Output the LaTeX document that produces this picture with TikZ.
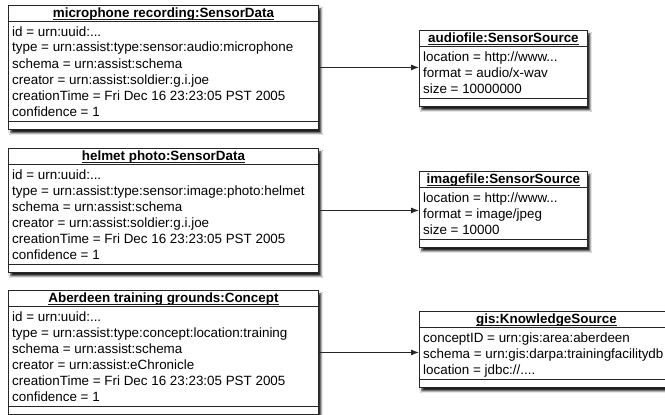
\documentclass[tikz,border=0pt]{standalone}
\usepackage{fontspec}
\setmainfont{Liberation Sans}
\usetikzlibrary{arrows.meta,shadows.blur}

% three full stops, kept in a macro so that \foreach does not read them as a range
\newcommand\tdots{...}

\tikzset{
  objframe/.style={draw=black!85, line width=0.9pt, fill=white, inner sep=0pt,
    blur shadow={shadow xshift=2.5pt, shadow yshift=-3.5pt, shadow blur radius=2pt,
                 shadow opacity=90}},
  objsep/.style={draw=black!85, line width=0.8pt},
  objtitle/.style={font=\fontsize{13.4}{16}\selectfont\bfseries, inner sep=0pt, anchor=base},
  objuline/.style={draw=black!90, line width=0.8pt},
  objrow/.style={font=\fontsize{13.4}{16}\selectfont, inner sep=0pt, anchor=base west},
  link/.style={draw=black!85, line width=0.9pt, -{Latex[length=8pt,width=6pt]}},
}

% UML object box: #1 name, #2 top-left corner, #3 width, #4 title,
% #5 number of attribute rows, #6 comma separated attribute rows
\newcommand\objbox[6]{%
  \node[objframe, minimum width=#3, minimum height={28pt+#5*16pt},
        anchor=north west] (#1) at #2 {};
  \draw[objsep] ([yshift=-16pt]#1.north west) -- ([yshift=-16pt]#1.north east);
  \draw[objsep] ([yshift=9pt]#1.south west) -- ([yshift=9pt]#1.south east);
  \node[objtitle] (#1-t) at ([yshift=-12.3pt]#1.north) {#4};
  \draw[objuline] ([yshift=-1.7pt]#1-t.base west) -- ([yshift=-1.7pt]#1-t.base east);
  \foreach \r [count=\i] in {#6}
    \node[objrow] (#1-\i) at ([xshift=4pt, yshift={-(15pt+\i*16pt)}]#1.north west) {\r};
}

\begin{document}
\begin{tikzpicture}[x=1pt, y=-1pt]
  \clip (0,0) rectangle (665,415);
  \fill[white] (0,0) rectangle (665,415);

  % data objects
  \objbox{m1}{(8,5)}{310pt}{microphone recording:SensorData}{6}{%
    id = urn:uuid:\tdots,
    type = urn:assist:type:sensor:audio:microphone,
    schema = urn:assist:schema,
    creator = urn:assist:soldier:g.i.joe,
    creationTime = Fri Dec 16 23:23:05 PST 2005,
    confidence = 1}
  \objbox{m2}{(8,148)}{310pt}{helmet photo:SensorData}{6}{%
    id = urn:uuid:\tdots,
    type = urn:assist:type:sensor:image:photo:helmet,
    schema = urn:assist:schema,
    creator = urn:assist:soldier:g.i.joe,
    creationTime = Fri Dec 16 23:23:05 PST 2005,
    confidence = 1}
  \objbox{m3}{(8,290)}{310pt}{Aberdeen training grounds:Concept}{6}{%
    id = urn:uuid:\tdots,
    type = urn:assist:type:concept:location:training,
    schema = urn:assist:schema,
    creator = urn:assist:eChronicle,
    creationTime = Fri Dec 16 23:23:05 PST 2005,
    confidence = 1}

  % source objects
  \objbox{s1}{(419,30)}{168pt}{audiofile:SensorSource}{3}{%
    location = http://www\tdots,
    format = audio/x-wav,
    size = 10000000}
  \objbox{s2}{(419,171)}{168pt}{imagefile:SensorSource}{3}{%
    location = http://www\tdots,
    format = image/jpeg,
    size = 10000}
  \objbox{s3}{(419,311)}{254pt}{gis:KnowledgeSource}{3}{%
    conceptID = urn:gis:area:aberdeen,
    schema = urn:gis:darpa:trainingfacilitydb,
    location = jdbc://.\tdots}

  % links
  \draw[link] (m1.east) -- (m1.east -| s1.west);
  \draw[link] (m2.east) -- (m2.east -| s2.west);
  \draw[link] (m3.east) -- (m3.east -| s3.west);
\end{tikzpicture}
\end{document}
